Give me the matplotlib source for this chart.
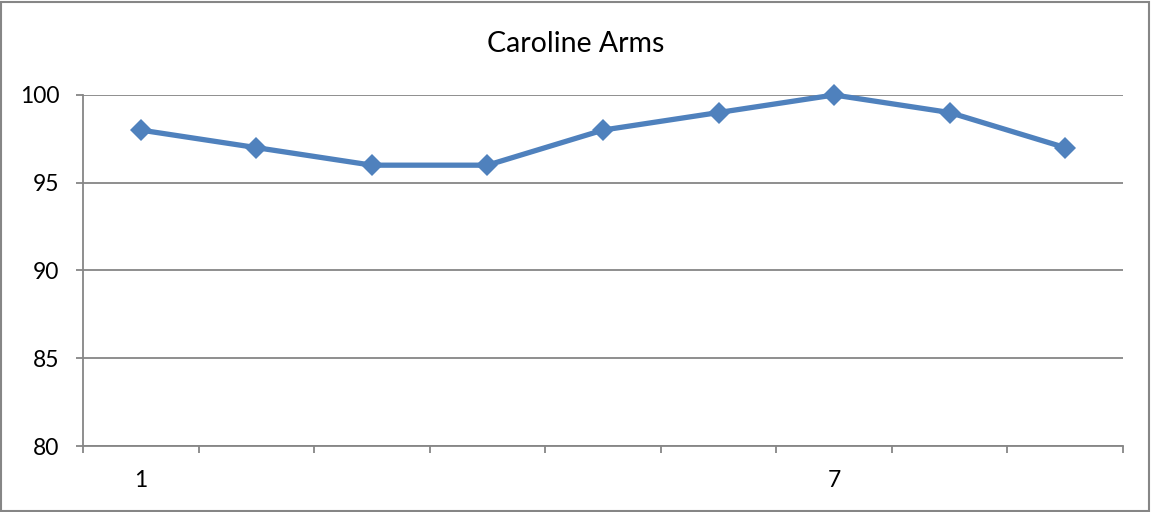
import matplotlib
matplotlib.use('Agg')
import matplotlib.pyplot as plt
from matplotlib.patches import Rectangle

plt.rcParams['font.family'] = ['Lato', 'DejaVu Sans']

# Scores per session
sessions = [1, 2, 3, 4, 5, 6, 7, 8, 9]
scores = [98, 97, 96, 96, 98, 99, 100, 99, 97]
shown_labels = {1: '1', 7: '7'}
y_ticks = [80, 85, 90, 95, 100]

grey = '#868686'
blue = '#4F81BD'

fig = plt.figure(figsize=(11.51, 5.12), dpi=100)
ax = fig.add_axes([0.0721, 0.1289, 0.9036, 0.6856])

ax.plot(sessions, scores, color=blue, linewidth=3.8, marker='D',
        markersize=11, markeredgewidth=0, zorder=3, clip_on=False)

ax.set_xlim(0.5, len(sessions) + 0.5)
ax.set_ylim(80, 100)
ax.set_yticks(y_ticks)
ax.set_yticklabels([str(v) for v in y_ticks])
ax.yaxis.grid(True, color=grey, linewidth=1.3)
ax.set_axisbelow(True)

# tick marks on category boundaries, labels under selected categories
ax.set_xticks([s - 0.5 for s in sessions] + [len(sessions) + 0.5])
ax.set_xticklabels([])
ax.set_xticks(list(shown_labels.keys()), minor=True)
ax.set_xticklabels(list(shown_labels.values()), minor=True)
ax.tick_params(axis='x', which='major', length=5, width=1.3, color=grey, direction='out')
ax.tick_params(axis='x', which='minor', length=0, pad=17, labelsize=16.5)
ax.tick_params(axis='y', length=5, width=1.3, color=grey, pad=12, labelsize=16.5)

for side in ['top', 'right']:
    ax.spines[side].set_visible(False)
for side in ['left', 'bottom']:
    ax.spines[side].set_color(grey)
    ax.spines[side].set_linewidth(1.3)

fig.text(0.5, 0.914, 'Caroline Arms', ha='center', va='center', fontsize=20.5)

# chart frame
fig.patches.append(Rectangle((0.001, 0.002), 0.997, 0.994, transform=fig.transFigure,
                             fill=False, edgecolor=grey, linewidth=1.5))

fig.savefig('out.png', dpi=100)
